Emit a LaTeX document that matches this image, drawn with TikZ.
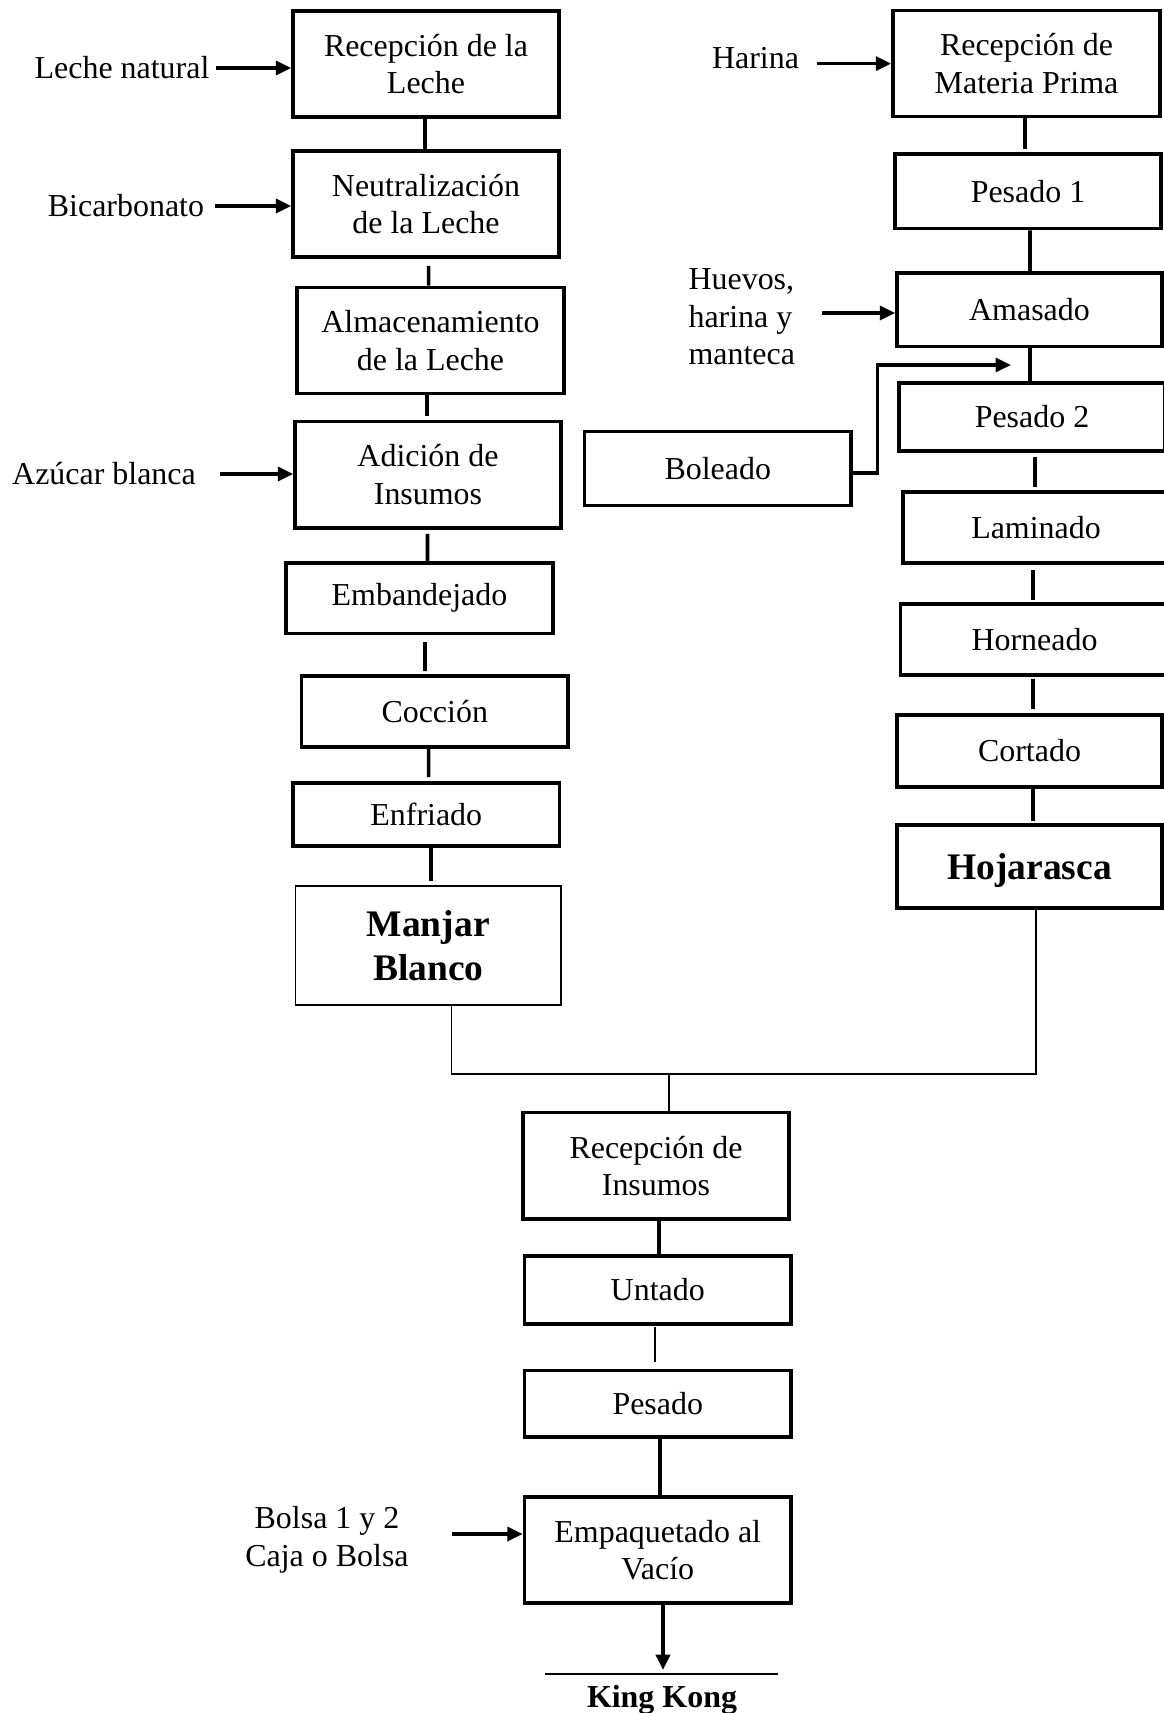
\documentclass[tikz,border=0pt]{standalone}
\usepackage{fontspec}
\setmainfont{Liberation Serif}
\usetikzlibrary{arrows.meta,calc}
\begin{document}
\begin{tikzpicture}[x=0.36pt,y=-0.36pt,
  fs/.style={font=\fontsize{11.5}{13.5}\selectfont},
  box/.style={draw, line width=1.3pt, align=center, inner sep=0pt, fs},
  wh/.style 2 args={minimum width=#1*0.36pt, minimum height=#2*0.36pt},
  conn/.style={line width=1.3pt},
  thinl/.style={line width=0.6pt},
  arr/.style={line width=1.3pt, -{Triangle[length=5.5pt,width=5pt]}},
  lbl/.style={fs, inner sep=0pt},
  boldtxt/.style={font=\fontsize{13.5}{15.5}\selectfont\bfseries}]

\useasboundingbox (0,0) rectangle (1163,1713);

% left column
\node[box,wh={266}{106}] (rl) at (426,64) {Recepción de la\\Leche};
\node[box,wh={266}{106}] (nl) at (426,204) {Neutralización\\de la Leche};
\node[box,wh={267}{106}] (al) at (430.5,340.5) {Almacenamiento\\de la Leche};
\node[box,wh={266}{106.6}] (ai) at (428,474.7) {Adición de\\Insumos};
\node[box,wh={267}{70.6}] (em) at (419.5,598) {Embandejado};
\node[box,wh={266.5}{71}] (co) at (434.75,711.5) {Cocción};
\node[box,wh={266.5}{63}] (en) at (426.25,814.5) {Enfriado};
\node[box,wh={265.5}{119},boldtxt,line width=0.6pt,text depth=0pt] (mb) at (428.25,945.5) {Manjar\\Blanco};

% right column
\node[box,wh={267}{105.7}] (rm) at (1026.5,63.5) {Recepción de\\Materia Prima};
\node[box,wh={266}{74.6}] (p1) at (1028,191.3) {Pesado 1};
\node[box,wh={265}{73.4}] (am) at (1029.5,309.7) {Amasado};
\node[box,wh={266}{67.7}] (p2) at (1032,416.85) {Pesado 2};
\node[box,wh={266.5}{74}] (bo) at (717.75,468.4) {Boleado};
\node[box,wh={266}{71}] (la) at (1036,527.5) {Laminado};
\node[box,wh={268}{71}] (ho) at (1034.5,639.5) {Horneado};
\node[box,wh={265}{72}] (ct) at (1029.5,751) {Cortado};
\node[box,wh={265}{83},boldtxt,text depth=0pt] (hj) at (1029.5,866.5) {Hojarasca};

% bottom column
\node[box,wh={266}{106.4}] (ri) at (656,1165.8) {Recepción de\\Insumos};
\node[box,wh={266.5}{68}] (un) at (657.75,1290) {Untado};
\node[box,wh={266.5}{66.5}] (pe) at (657.75,1403.75) {Pesado};
\node[box,wh={266.5}{106}] (ep) at (657.75,1550) {Empaquetado al\\Vacío};

% input labels
\node[lbl,anchor=base] (ln) at (122,78) {Leche natural};
\node[lbl,anchor=base] (bc) at (126,216) {Bicarbonato};
\node[lbl,anchor=base] (az) at (104,484) {Azúcar blanca};
\node[lbl,anchor=base] (ha) at (755.5,68) {Harina};
\node[lbl,anchor=west,align=left] (hv) at (688,317) {Huevos,\\harina y\\manteca};
\node[lbl,align=center] (bl) at (327,1540) {Bolsa 1 y 2\\Caja o Bolsa};
\node[font=\fontsize{11.5}{13.5}\selectfont\bfseries, inner sep=0pt, anchor=base] (kk) at (662,1707) {King Kong};

% input arrows
\coordinate (s1) at (216,68);   \draw[arr] (s1) -- (s1 -| rl.west);
\coordinate (s2) at (215,206);  \draw[arr] (s2) -- (s2 -| nl.west);
\coordinate (s3) at (220,474);  \draw[arr] (s3) -- (s3 -| ai.west);
\coordinate (s4) at (817,63.6); \draw[arr] (s4) -- (s4 -| rm.west);
\coordinate (s5) at (822,313);  \draw[arr] (s5) -- (s5 -| am.west);
\coordinate (s6) at (452,1534); \draw[arr] (s6) -- (s6 -| ep.west);

% left connectors
\draw[conn] ($(rl.south)+(-1,0)$) -- ($(nl.north)+(-1,0)$);
\draw[conn] ($(nl.south)+(2.6,7)$) -- ($(al.north)+(-1.9,0)$);
\draw[conn] ($(al.south)+(-3.5,0)$) -- ($(ai.north)+(-1,-3.4)$);
\draw[conn] ($(ai.south)+(-0.5,4)$) -- ($(em.north)+(8,0)$);
\draw[conn] ($(em.south)+(5.5,7)$) -- ($(co.north)+(-9.75,-3)$);
\draw[conn] ($(co.south)+(-6.15,0)$) -- ($(en.north)+(2.35,-4)$);
\draw[conn] ($(en.south)+(4.75,0)$) -- ($(mb.north)+(2.75,-4)$);

% right connectors
\draw[conn] ($(rm.south)+(-1.5,0)$) -- ($(p1.north)+(-3,-3.3)$);
\draw[conn] ($(p1.south)+(2,0)$) -- ($(am.north)+(0.5,0)$);
\draw[conn] ($(am.south)+(0.5,0)$) -- ($(p2.north)+(-2,0)$);
\draw[conn] ($(p2.south)+(3,4)$) -- ($(la.north)+(-1,-3)$);
\draw[conn] ($(la.south)+(-3,5)$) -- ($(ho.north)+(-1.5,-2)$);
\draw[conn] ($(ho.south)+(-1.5,2)$) -- ($(ct.north)+(3.5,-4)$);
\draw[conn] ($(ct.south)+(3.5,0)$) -- ($(hj.north)+(3.5,-2)$);

% Boleado return arrow
\coordinate (bt) at (1011,365);
\draw[arr,line width=1.1pt] ($(bo.east)+(0,4.6)$) -- ++(24.5,0) |- (bt);

% merge
\draw[thinl] ($(mb.south)+(23.35,0)$) -- ++(0,68) -| ($(hj.south)+(6.5,0)$);
\coordinate (mj) at (669,1073);
\draw[thinl] (mj) -- (mj |- ri.north);

% bottom connectors
\draw[conn] ($(ri.south)+(3,0)$) -- ($(un.north)+(1.25,0)$);
\draw[thinl] ($(un.south)+(-2.75,1)$) -- ($(pe.north)+(-2.75,-6.5)$);
\draw[conn] ($(pe.south)+(2.25,0)$) -- ($(ep.north)+(2.25,0)$);
\coordinate (kt) at (663,1670);
\draw[arr] (ep.south -| kt) -- (kt);
\coordinate (kl1) at (545,1674);
\coordinate (kl2) at (778,1674);
\draw[line width=0.8pt] (kl1) -- (kl2);
\end{tikzpicture}
\end{document}
